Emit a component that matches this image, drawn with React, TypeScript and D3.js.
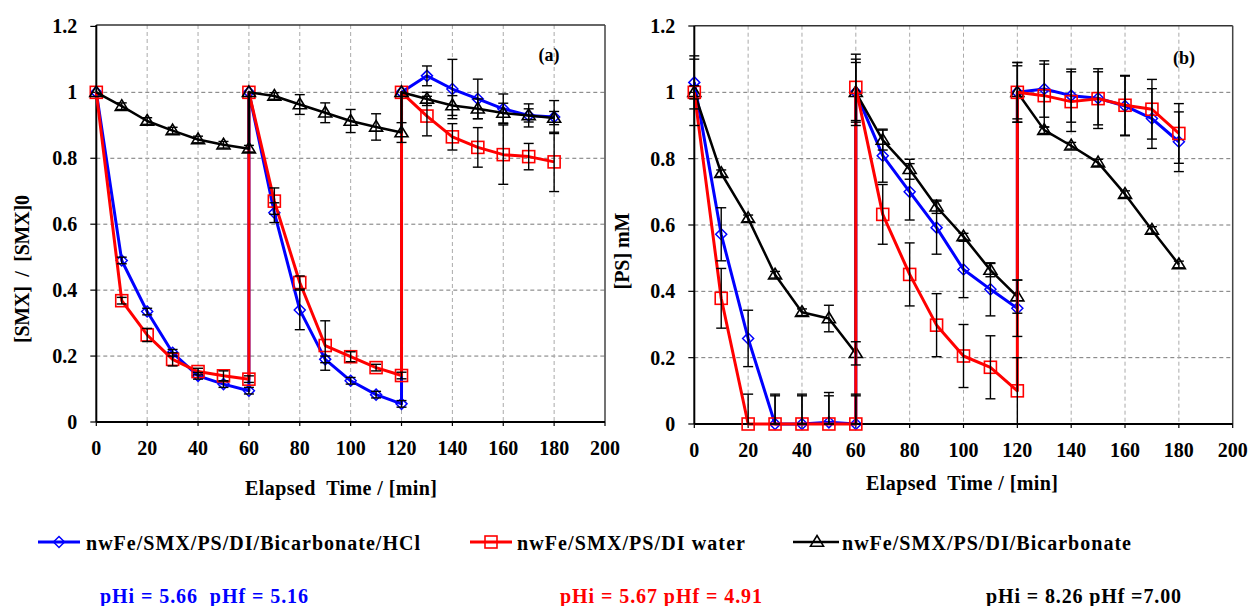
import React from 'react';
import * as d3 from 'd3';

// ---------- data ----------
const times = [0, 10, 20, 30, 40, 50, 60, 60, 70, 80, 90, 100, 110, 120, 120, 130, 140, 150, 160, 170, 180];
const xTicks = [0, 20, 40, 60, 80, 100, 120, 140, 160, 180, 200];
const yTicks = [0, 0.2, 0.4, 0.6, 0.8, 1.0, 1.2];

const seriesNames = ['nwFe/SMX/PS/DI/Bicarbonate/HCl', 'nwFe/SMX/PS/DI water', 'nwFe/SMX/PS/DI/Bicarbonate'];
const phLabels = ['pHi = 5.66  pHf = 5.16', 'pHi = 5.67 pHf = 4.91', 'pHi = 8.26 pHf =7.00'];

// Panel (a): [SMX]/[SMX]0
const smxHCl = [1.0, 0.49, 0.335, 0.21, 0.14, 0.115, 0.095, 1.0, 0.635, 0.34, 0.19, 0.125, 0.083, 0.055, 1.0, 1.05, 1.01, 0.98, 0.95, 0.93, 0.925];
const smxHClErr = [0, 0.01, 0.01, 0.01, 0.01, 0.01, 0.01, 0, 0.03, 0.06, 0.01, 0.01, 0.01, 0.01, 0, 0.03, 0.09, 0.06, 0.045, 0.035, 0.05];
const smxWater = [1.0, 0.368, 0.264, 0.19, 0.153, 0.14, 0.13, 1.0, 0.67, 0.423, 0.232, 0.198, 0.165, 0.141, 1.0, 0.928, 0.865, 0.833, 0.811, 0.805, 0.789];
const smxWaterErr = [0, 0.01, 0.02, 0.02, 0.01, 0.015, 0.01, 0, 0.04, 0.02, 0.075, 0.015, 0.01, 0.01, 0, 0.06, 0.04, 0.06, 0.09, 0.04, 0.09];
const smxBicarb = [1.0, 0.958, 0.913, 0.884, 0.857, 0.841, 0.829, 1.0, 0.989, 0.963, 0.938, 0.913, 0.895, 0.878, 1.0, 0.98, 0.96, 0.95, 0.937, 0.93, 0.922];
const smxBicarbErr = [0, 0.01, 0.01, 0.01, 0.01, 0.01, 0.01, 0, 0.01, 0.03, 0.03, 0.035, 0.04, 0.03, 0, 0.02, 0.03, 0.03, 0.03, 0.02, 0.02];

// Panel (b): [PS] mM
const psHCl = [1.03, 0.572, 0.258, 0.0, 0.0, 0.005, 0.0, 1.0, 0.809, 0.70, 0.592, 0.466, 0.406, 0.349, 1.0, 1.01, 0.99, 0.982, 0.959, 0.921, 0.851];
const psHClErr = [0.08, 0.08, 0.085, 0.09, 0.09, 0.09, 0.09, 0.09, 0.08, 0.085, 0.08, 0.085, 0.08, 0.085, 0.09, 0.085, 0.08, 0.08, 0.09, 0.09, 0.09];
const psWater = [1.0, 0.379, 0.0, 0.0, 0.0, 0.0, 0.0, 1.015, 0.632, 0.451, 0.298, 0.205, 0.171, 0.10, 1.0, 0.99, 0.972, 0.981, 0.961, 0.949, 0.876];
const psWaterErr = [0.02, 0.09, 0.09, 0.085, 0.085, 0.085, 0.085, 0.1, 0.09, 0.095, 0.095, 0.095, 0.095, 0.1, 0.08, 0.095, 0.09, 0.09, 0.09, 0.09, 0.09];
const psBicarb = [1.0, 0.756, 0.62, 0.45, 0.337, 0.318, 0.213, 1.0, 0.856, 0.768, 0.655, 0.565, 0.464, 0.384, 1.0, 0.886, 0.839, 0.788, 0.693, 0.585, 0.481];
const psBicarbErr = [0.1, 0.01, 0.01, 0.01, 0.01, 0.04, 0.035, 0.1, 0.03, 0.03, 0.02, 0.01, 0.02, 0.05, 0.09, 0.01, 0.01, 0.01, 0.01, 0.01, 0.01];

// ---------- styles ----------
const BLUE = '#0000FF';
const RED = '#FF0000';
const BLACK = '#000000';
const FONT = 'Liberation Serif, Times New Roman, serif';

type MarkerKind = 'diamond' | 'square' | 'triangle';
interface Series { values: number[]; errors: number[]; color: string; marker: MarkerKind; width: number; }

function Marker({ kind, x, y, color }: { kind: MarkerKind; x: number; y: number; color: string }) {
  if (kind === 'diamond') {
    const r = 5.5;
    return <path d={`M${x},${y - r}L${x + r},${y}L${x},${y + r}L${x - r},${y}Z`} fill="none" stroke={color} strokeWidth={1.5} />;
  }
  if (kind === 'square') {
    const s = 12;
    return <rect x={x - s / 2} y={y - s / 2} width={s} height={s} fill="none" stroke={color} strokeWidth={1.6} />;
  }
  return <path d={`M${x},${y - 6.5}L${x + 6.5},${y + 4.2}L${x - 6.5},${y + 4.2}Z`} fill="none" stroke={color} strokeWidth={1.6} />;
}

interface PanelProps {
  left: number; right: number; top: number; bottom: number; yTop: number;
  series: Series[];
  label: string; labelX: number; labelY: number;
  yTitle: string; yTitleX: number; yTitleY: number; yTitleLen: number;
  xTitleX: number; xTitleY: number; xLabelY: number;
}

const textStyle: React.CSSProperties = { fontFamily: FONT, fontWeight: 'bold', whiteSpace: 'pre' };

function Panel(p: PanelProps) {
  const x = d3.scaleLinear().domain([0, 200]).range([p.left, p.right]);
  const y = d3.scaleLinear().domain([0, 1.2]).range([p.bottom, p.yTop]);
  const line = d3.line<number>().x((_, i) => x(times[i])).y((v) => y(v));
  const clampY = (v: number) => y(Math.max(0, Math.min(1.2, v)));
  const fmt = (v: number) => String(+v.toFixed(1));
  return (
    <g>
      {/* grid */}
      {yTicks.filter((t) => t > 0 && t < 1.2).map((t) => (
        <line key={'h' + t} x1={p.left} x2={p.right} y1={y(t)} y2={y(t)} stroke="#777" strokeWidth={1} strokeDasharray="4,3" />
      ))}
      {xTicks.filter((t) => t > 0 && t < 200).map((t) => (
        <line key={'v' + t} x1={x(t)} x2={x(t)} y1={p.top} y2={p.bottom} stroke="#aaa" strokeWidth={1} strokeDasharray="4,3" />
      ))}
      {/* frame */}
      <line x1={p.left} x2={p.right} y1={p.top} y2={p.top} stroke="#333" strokeWidth={1.5} />
      <line x1={p.right} x2={p.right} y1={p.top} y2={p.bottom} stroke="#444" strokeWidth={1.5} />
      <line x1={p.left} x2={p.left} y1={p.top} y2={p.bottom} stroke="#000" strokeWidth={2} />
      <line x1={p.left} x2={p.right} y1={p.bottom} y2={p.bottom} stroke="#000" strokeWidth={2} />
      {yTicks.map((t) => (
        <line key={'yt' + t} x1={p.left - 6} x2={p.left} y1={y(t)} y2={y(t)} stroke="#000" strokeWidth={1.2} />
      ))}
      {xTicks.map((t) => (
        <line key={'xt' + t} x1={x(t)} x2={x(t)} y1={p.bottom} y2={p.bottom + 4} stroke="#000" strokeWidth={1.2} />
      ))}
      {/* tick labels */}
      {yTicks.map((t) => (
        <text key={'yl' + t} x={p.left - 19} y={y(t)} dy="0.35em" textAnchor="end" style={textStyle} fontSize={20}>{fmt(t)}</text>
      ))}
      {xTicks.map((t) => (
        <text key={'xl' + t} x={x(t)} y={p.xLabelY} dy="0.35em" textAnchor="middle" style={textStyle} fontSize={20}>{t}</text>
      ))}
      {/* series lines & markers */}
      {p.series.map((s, si) => (
        <g key={'s' + si}>
          <path d={line(s.values) || ''} fill="none" stroke={s.color} strokeWidth={s.width} strokeLinejoin="round" />
          {s.values.map((v, i) => (
            <Marker key={i} kind={s.marker} x={x(times[i])} y={y(v)} color={s.color} />
          ))}
        </g>
      ))}
      {/* error bars */}
      {p.series.map((s, si) => (
        <g key={'e' + si}>
          {s.values.map((v, i) => {
            const e = s.errors[i];
            if (!e) return null;
            const cx = x(times[i]);
            const y1 = clampY(v + e);
            const y2 = clampY(v - e);
            return (
              <g key={i} stroke="#000" strokeWidth={1.4}>
                <line x1={cx} x2={cx} y1={y1} y2={y2} />
                <line x1={cx - 5} x2={cx + 5} y1={y1} y2={y1} />
                <line x1={cx - 5} x2={cx + 5} y1={y2} y2={y2} />
              </g>
            );
          })}
        </g>
      ))}
      {/* labels */}
      <text x={p.labelX} y={p.labelY} dy="0.35em" textAnchor="middle" style={textStyle} fontSize={18}>{p.label}</text>
      <text x={p.xTitleX} y={p.xTitleY} dy="0.35em" textAnchor="middle" style={textStyle} fontSize={20}
        textLength={192} lengthAdjust="spacing">{'Elapsed  Time / [min]'}</text>
      <text transform={`translate(${p.yTitleX},${p.yTitleY}) rotate(-90)`} dy="0.35em" textAnchor="middle" style={textStyle} fontSize={20}
        textLength={p.yTitleLen} lengthAdjust="spacing">{p.yTitle}</text>
    </g>
  );
}

export default function App() {
  const panelA: Series[] = [
    { values: smxHCl, errors: smxHClErr, color: BLUE, marker: 'diamond', width: 3 },
    { values: smxWater, errors: smxWaterErr, color: RED, marker: 'square', width: 3 },
    { values: smxBicarb, errors: smxBicarbErr, color: BLACK, marker: 'triangle', width: 2.5 },
  ];
  const panelB: Series[] = [
    { values: psHCl, errors: psHClErr, color: BLUE, marker: 'diamond', width: 3 },
    { values: psBicarb, errors: psBicarbErr, color: BLACK, marker: 'triangle', width: 2.5 },
    { values: psWater, errors: psWaterErr, color: RED, marker: 'square', width: 3 },
  ];
  const legend = [
    { name: seriesNames[0], color: BLUE, marker: 'diamond' as MarkerKind, x1: 38, x2: 80, mx: 59, tx: 86, tl: 334, width: 3 },
    { name: seriesNames[1], color: RED, marker: 'square' as MarkerKind, x1: 470, x2: 512, mx: 491, tx: 517, tl: 228, width: 3 },
    { name: seriesNames[2], color: BLACK, marker: 'triangle' as MarkerKind, x1: 793, x2: 839, mx: 817, tx: 842, tl: 289, width: 2.5 },
  ];
  const ph = [
    { text: phLabels[0], color: BLUE, x: 100, tl: 208 },
    { text: phLabels[1], color: RED, x: 560, tl: 202 },
    { text: phLabels[2], color: BLACK, x: 986, tl: 195 },
  ];
  return (
    <svg width={1249} height={606} style={{ position: 'absolute', left: 0, top: 0, background: '#fff' }}>
      <rect x={0} y={0} width={1249} height={606} fill="#fff" />
      <Panel left={96.3} right={605} top={25} bottom={422} yTop={26.4} series={panelA}
        label="(a)" labelX={549} labelY={55}
        yTitle="[SMX]  /  [SMX]0" yTitleX={22} yTitleY={269} yTitleLen={148}
        xTitleX={341} xTitleY={488} xLabelY={448} />
      <Panel left={694.3} right={1232.7} top={25.7} bottom={424} yTop={26} series={panelB}
        label="(b)" labelX={1184} labelY={58}
        yTitle="[PS] mM" yTitleX={622} yTitleY={251} yTitleLen={77}
        xTitleX={962} xTitleY={483} xLabelY={450} />
      {legend.map((l, i) => (
        <g key={'lg' + i}>
          <line x1={l.x1} x2={l.x2} y1={542} y2={542} stroke={l.color} strokeWidth={l.width} />
          <Marker kind={l.marker} x={l.mx} y={542} color={l.color} />
          <text x={l.tx} y={543} dy="0.35em" style={textStyle} fontSize={20}
            textLength={l.tl} lengthAdjust="spacing">{l.name}</text>
        </g>
      ))}
      {ph.map((p, i) => (
        <text key={'ph' + i} x={p.x} y={596} dy="0.35em" fill={p.color} style={textStyle} fontSize={20}
          textLength={p.tl} lengthAdjust="spacing">{p.text}</text>
      ))}
    </svg>
  );
}
